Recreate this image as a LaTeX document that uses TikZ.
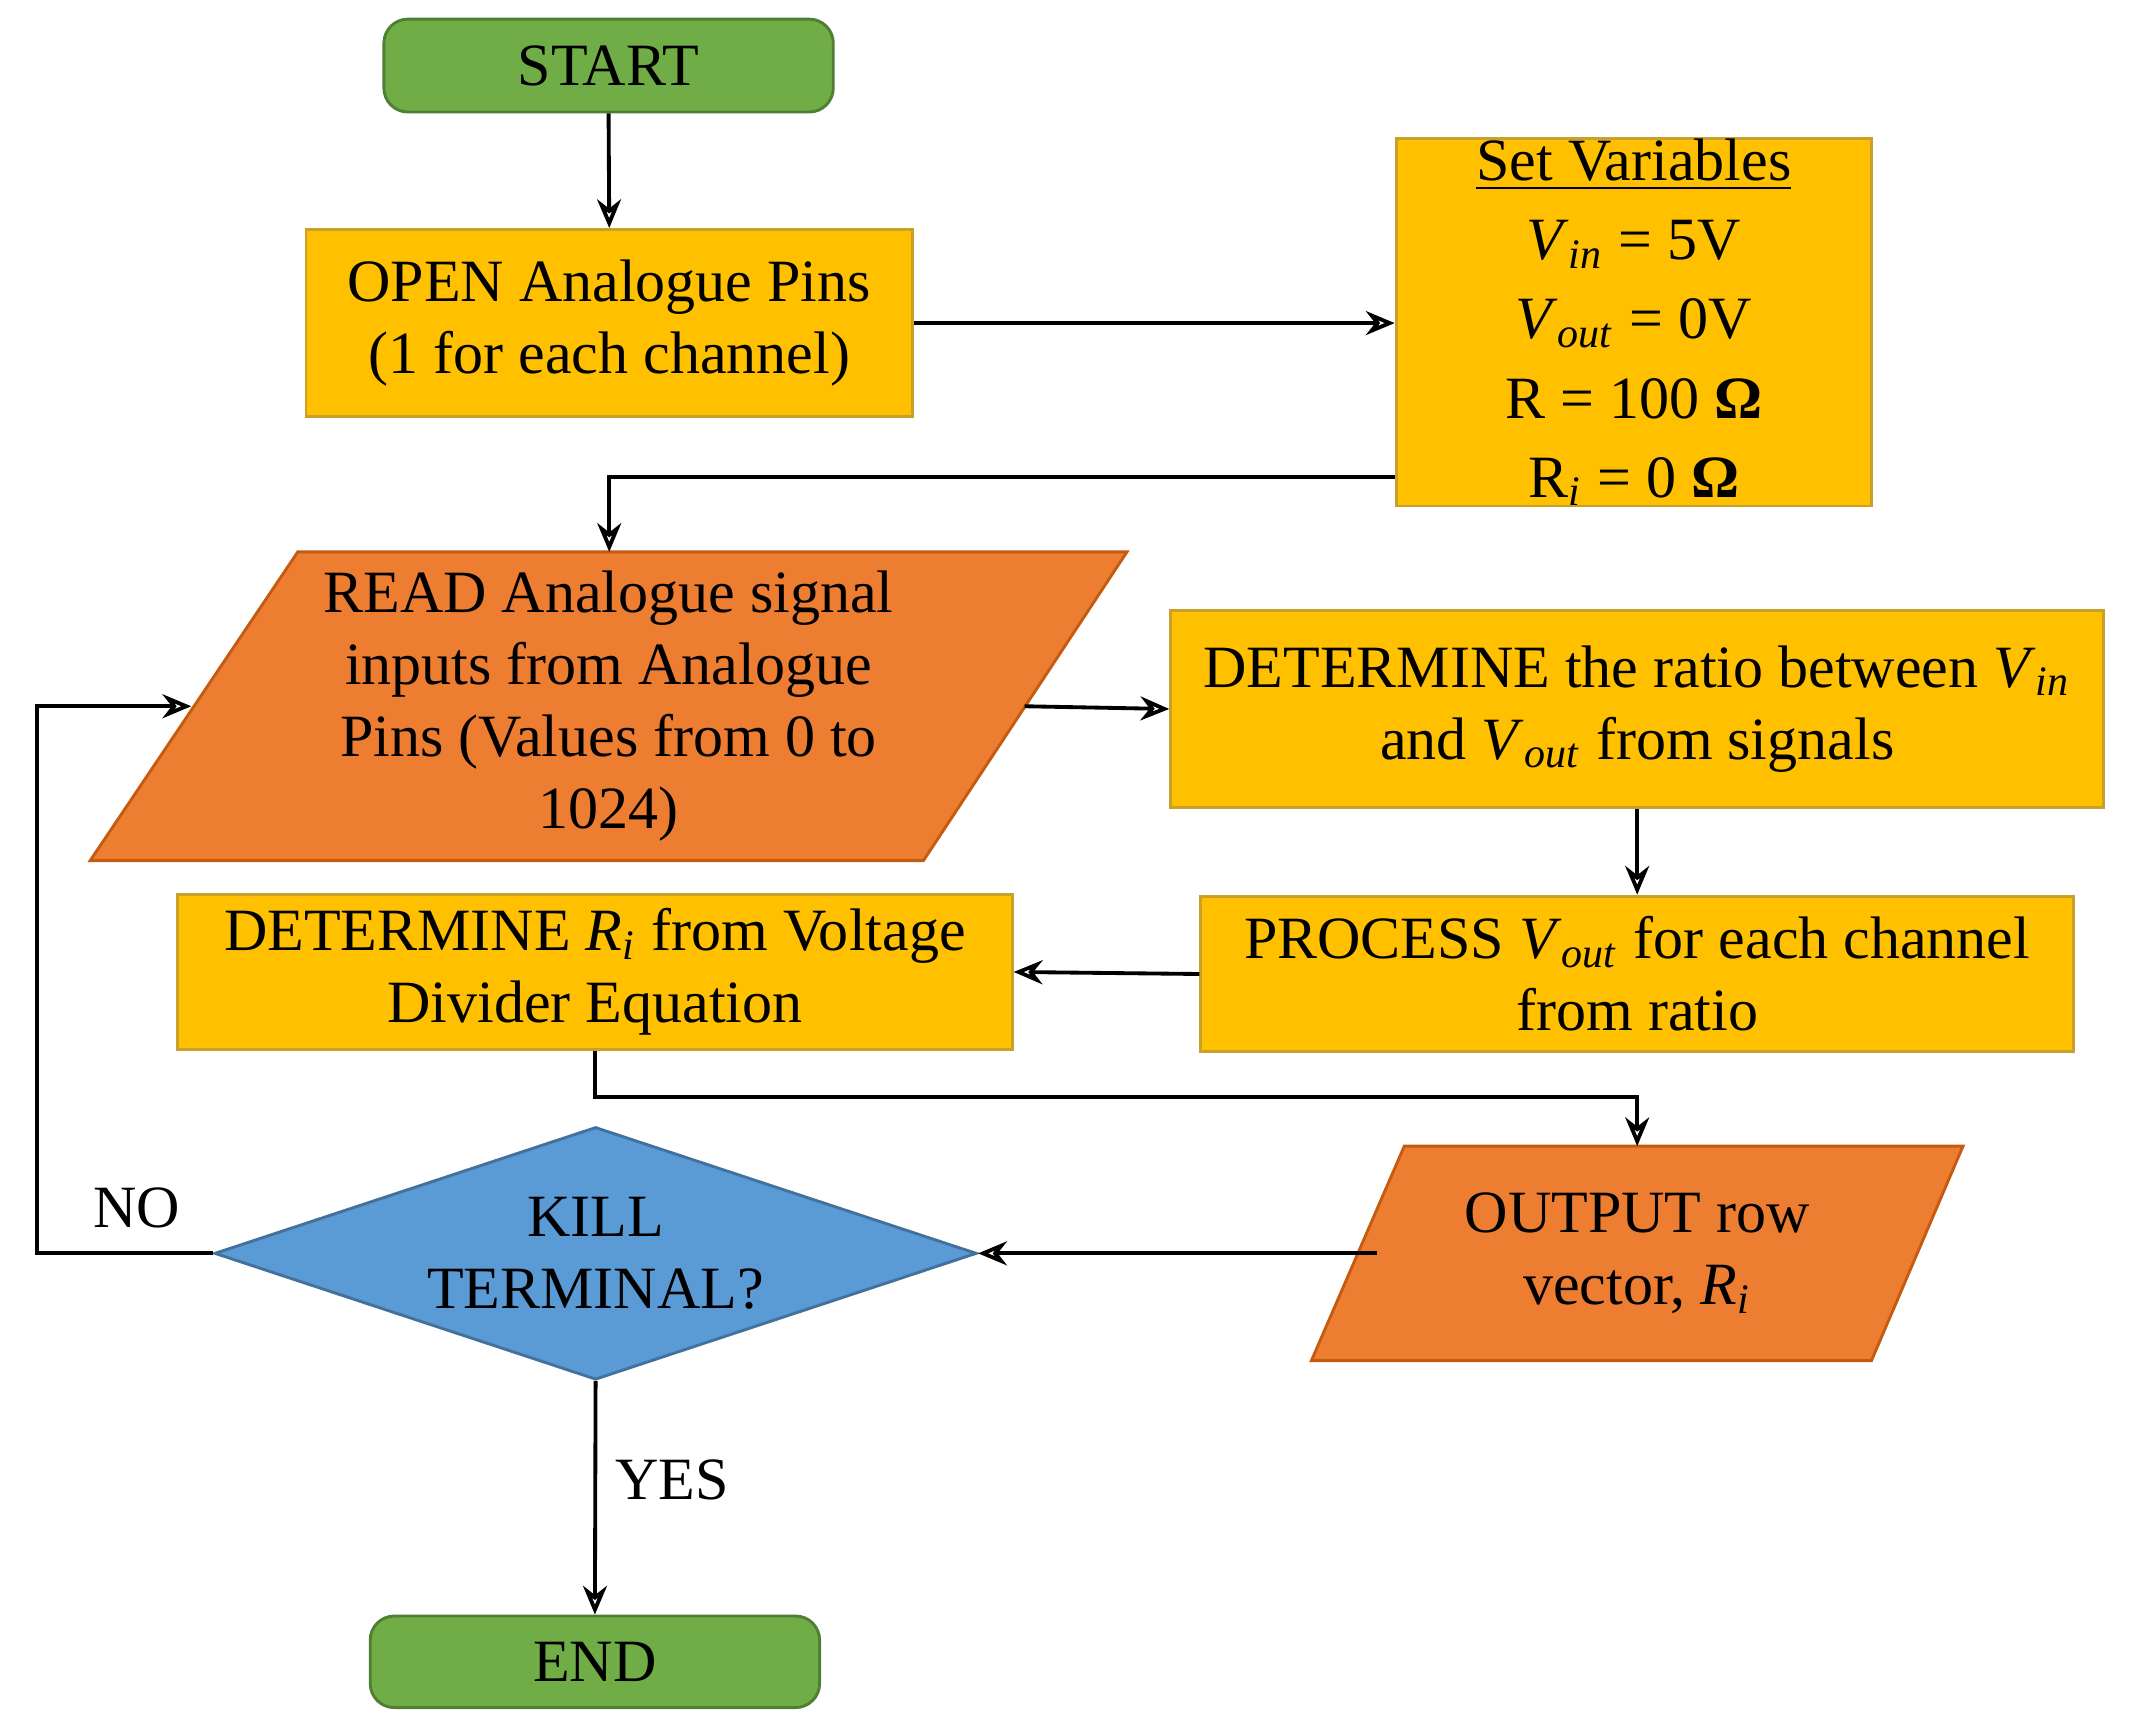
\documentclass[tikz,border=0pt]{standalone}
\usepackage{fontspec}
\setmainfont{Liberation Serif}
\usetikzlibrary{arrows.meta,shapes.geometric}
\definecolor{gfill}{HTML}{70AD47}\definecolor{gdraw}{HTML}{507E32}
\definecolor{yfill}{HTML}{FFC000}\definecolor{ydraw}{HTML}{C9A02A}
\definecolor{ofill}{HTML}{ED7D31}\definecolor{odraw}{HTML}{C55A11}
\definecolor{bfill}{HTML}{5B9BD5}\definecolor{bdraw}{HTML}{41719C}
\newcommand{\vi}[1]{\textit{V}\textsubscript{\textit{#1}}}
\begin{document}
\begin{tikzpicture}[x=1cm,y=-1cm,
  txt/.style={font=\fontsize{12.5}{15}\selectfont,align=center},
  term/.style={txt,draw=gdraw,fill=gfill,line width=0.6pt,rounded corners=5pt,inner sep=0},
  proc/.style={txt,draw=ydraw,fill=yfill,line width=0.6pt,inner sep=0},
  io/.style={draw=odraw,fill=ofill,line width=0.6pt},
  arr/.style={-{Stealth[length=6pt,width=5pt,open]},line width=0.8pt,black},
  ln/.style={line width=0.8pt,black}]
\useasboundingbox (0,0) rectangle (15.6,12.67);
% terminals
\node[term,minimum width=3.29cm,minimum height=0.68cm] (start) at (4.455,0.48) {START};
\node[term,minimum width=3.29cm,minimum height=0.67cm] (end) at (4.355,12.165) {END};
% process boxes
\node[proc,minimum width=4.44cm,minimum height=1.37cm] (open) at (4.46,2.365) {OPEN Analogue Pins\\(1 for each channel)};
\node[proc,minimum width=3.48cm,minimum height=2.66cm,font=\fontsize{12.5}{16.5}\selectfont] (vars) at (11.96,2.36)
 {\underline{Set Variables}\\\vi{in} = 5V\\\vi{out} = 0V\\R = 100 \textbf{Ω}\\R\textsubscript{\textit{i}} = 0 \textbf{Ω}};
\node[proc,minimum width=6.83cm,minimum height=1.44cm] (ratio) at (11.985,5.19) {DETERMINE the ratio between \vi{in}\\and \vi{out} from signals};
\node[proc,minimum width=6.39cm,minimum height=1.14cm] (procv) at (11.985,7.13) {PROCESS \vi{out} for each channel\\from ratio};
\node[proc,minimum width=6.11cm,minimum height=1.13cm] (detri) at (4.355,7.115) {DETERMINE \textit{R}\textsubscript{\textit{i}} from Voltage\\Divider Equation};
% READ parallelogram
\coordinate (r1) at (2.18,4.04);\coordinate (r2) at (8.25,4.04);
\coordinate (r3) at (6.76,6.30);\coordinate (r4) at (0.66,6.30);
\draw[io] (r1)--(r2)--(r3)--(r4)--cycle;
\node[txt] (read) at (4.455,5.17) {READ Analogue signal\\inputs from Analogue\\Pins (Values from 0 to\\1024)};
\coordinate (readR) at (7.50,5.17);
\coordinate (readL) at (1.40,5.17);
% OUTPUT parallelogram
\coordinate (o1) at (10.28,8.39);\coordinate (o2) at (14.37,8.39);
\coordinate (o3) at (13.70,9.96);\coordinate (o4) at (9.60,9.96);
\draw[io] (o1)--(o2)--(o3)--(o4)--cycle;
\node[txt] (out) at (11.985,9.175) {OUTPUT row\\vector, \textit{R}\textsubscript{\textit{i}}};
\coordinate (outT) at (11.985,8.39);
\coordinate (outL) at (10.08,9.175);
% diamond
\node[diamond,draw=bdraw,fill=bfill,line width=0.6pt,txt,minimum width=5.58cm,minimum height=1.85cm,inner sep=0,aspect=3] (kill) at (4.36,9.175) {KILL\\TERMINAL?};
% connectors
\draw[arr] (start.south) -- (open.north);
\draw[arr] (open.east) -- (open.east -| vars.west);
\draw[arr] (vars.west |- 0,3.49) -- (4.46,3.49) -- (r1 -| 4.46,0);
\draw[arr] (readR) -- (ratio.west |- 0,5.19);
\draw[arr] (ratio.south) -- (procv.north);
\draw[arr] (procv.west) -- (detri.east);
\draw[arr] (detri.south) -- (4.355,8.03) -- (11.985,8.03) -- (outT);
\draw[arr] (outL) -- (kill.east);
\draw[arr] (kill.west) -- (0.27,9.175) -- (0.27,5.17) -- (readL);
\draw[arr] (kill.south) -- (end.north);
\node[txt] (no) at (1.0,8.84) {NO};
\node[txt] (yes) at (4.92,10.83) {YES};
\end{tikzpicture}
\end{document}
